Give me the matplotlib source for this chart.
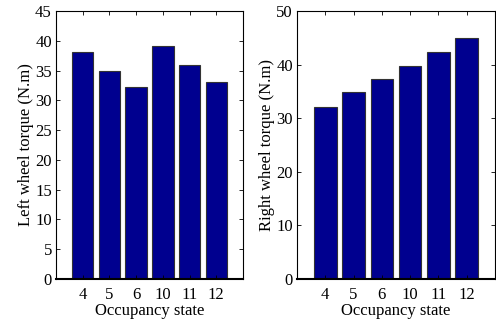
import numpy as np
import matplotlib
matplotlib.use("Agg")
import matplotlib.pyplot as plt

plt.rcParams['font.family'] = ['Liberation Serif', 'DejaVu Serif']

states = ["4", "5", "6", "10", "11", "12"]
left_torque = [38.1, 35.0, 32.2, 39.2, 36.0, 33.0]
right_torque = [32.1, 34.8, 37.3, 39.8, 42.3, 45.0]

bar_color = "#00008F"

fig = plt.figure(figsize=(4.96, 3.2), dpi=100)
ax1 = fig.add_axes([56/496, 1-279/320, 187/496, 268/320])
ax2 = fig.add_axes([297/496, 1-279/320, 198/496, 268/320])

x = np.arange(1, len(states)+1)
for ax, vals, ylab, ymax, step in [(ax1, left_torque, "Left wheel torque (N.m)", 45, 5),
                                   (ax2, right_torque, "Right wheel torque (N.m)", 50, 10)]:
    ax.bar(x, vals, width=0.8, color=bar_color, edgecolor="#333333", linewidth=0.8)
    ax.set_xlim(0, 7)
    ax.set_ylim(0, ymax)
    ax.set_xticks(x)
    ax.set_xticklabels(states)
    ax.set_yticks(np.arange(0, ymax+1, step))
    ax.tick_params(direction="in", top=True, right=True, labelsize=12, length=3, width=0.6)
    ax.tick_params(axis="x", pad=6)
    ax.tick_params(axis="y", pad=3)
    ax.set_xlabel("Occupancy state", fontsize=12, labelpad=0)
    ax.set_ylabel(ylab, fontsize=12, labelpad=1)
    for s in ax.spines.values():
        s.set_linewidth(0.8)
    ax.spines['bottom'].set_linewidth(1.5)

fig.savefig("out.png", dpi=100)
